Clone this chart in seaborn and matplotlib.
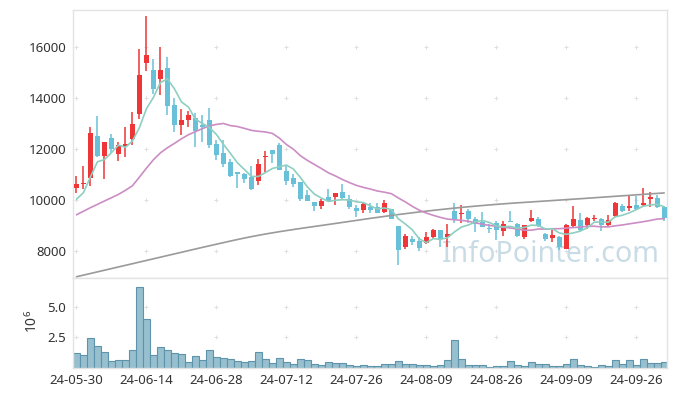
import numpy as np
import pandas as pd
import matplotlib
matplotlib.use("Agg")
import matplotlib.pyplot as plt
import seaborn as sns

# ---------------- data ----------------
tick_labels = ['24-05-30', '24-06-14', '24-06-28', '24-07-12', '24-07-26',
               '24-08-09', '24-08-26', '24-09-09', '24-09-26']

opens = [10482, 10620, 10875, 12510, 11725, 12431, 11804, 12118, 12404, 13372,
         15360, 15098, 14757, 15177, 13725, 12953, 13150, 13203, 12928, 13137,
         12196, 11830, 11490, 11098, 11020, 10889, 10758, 11670, 11974, 12157,
         11137, 10863, 10706, 10196, 9922, 9778, 10105, 10105, 10314, 10051,
         9686, 9608, 9738, 9712, 9543, 9635, 8980, 8144, 8471, 8405,
         8301, 8562, 8824, 8562, 9569, 9451, 9569, 9268, 9137, 8870,
         9111, 8784, 9170, 9072, 8537, 9176, 9242, 8653, 8510, 8537,
         8065, 8980, 9216, 9033, 9260, 9242, 9006, 9373, 9765, 9686,
         9791, 9817, 10039, 10078, 9712]
highs = [10941, 11333, 12850, 13294, 12275, 12588, 12275, 12850, 13451, 15910,
         17216, 15517, 15987, 15621, 13987, 13556, 13477, 13399, 13333, 13595,
         12353, 12353, 11595, 11098, 11046, 11333, 11595, 11908, 11974, 12222,
         11373, 11020, 10706, 10392, 9922, 10051, 10418, 10275, 10627, 10183,
         9791, 9922, 9869, 9869, 10000, 9635, 8980, 8667, 8588, 8537,
         8745, 8876, 8824, 9059, 9869, 9804, 9635, 9346, 9529, 9059,
         9190, 9190, 9582, 9111, 9006, 9608, 9320, 8719, 8824, 8588,
         9059, 9765, 9503, 9346, 9400, 9294, 9400, 9910, 9843, 10209,
         10157, 10471, 10314, 10209, 9765]
lows = [10286, 10420, 10561, 11700, 10811, 11830, 11541, 11698, 12170, 13165,
        15071, 14157, 14131, 13333, 12680, 12549, 12850, 12066, 12288, 12027,
        11569, 11307, 10889, 10458, 10654, 10392, 10575, 11110, 11439, 11176,
        10588, 10522, 9948, 9948, 9569, 9635, 9922, 9791, 10051, 9660,
        9346, 9478, 9503, 9478, 9503, 9242, 7464, 8092, 8222, 7987,
        8275, 8510, 8170, 8170, 9085, 9111, 9111, 8758, 8928, 8719,
        8431, 8588, 9137, 8562, 8484, 9137, 8954, 8405, 8353, 8039,
        8065, 8928, 8797, 8876, 9163, 8771, 8954, 9350, 9529, 9582,
        9608, 9738, 9738, 9686, 9190]
closes = [10627, 10660, 12639, 11725, 12275, 11987, 12145, 12196, 12980, 14902,
          15686, 14366, 15098, 13686, 12953, 13137, 13346, 12719, 12850, 12157,
          11777, 11412, 10941, 11007, 10837, 10418, 11412, 11700, 11816, 11176,
          10745, 10627, 10051, 9974, 9765, 9961, 9974, 10275, 10078, 9725,
          9582, 9843, 9608, 9503, 9895, 9268, 8039, 8588, 8353, 8118,
          8537, 8824, 8458, 8653, 9242, 9503, 9242, 9059, 8954, 8850,
          8824, 9046, 9150, 8588, 9006, 9281, 8980, 8471, 8640, 8170,
          9006, 9255, 8824, 9281, 9290, 9033, 9216, 9882, 9582, 9765,
          9660, 9895, 10118, 9712, 9294]
volume_m = [1.25, 1.03, 2.47, 1.76, 1.33, 0.59, 0.68, 0.68, 1.49, 6.63,
            4.02, 1.08, 1.74, 1.49, 1.25, 1.17, 0.51, 1.00, 0.68, 1.49,
            0.92, 0.84, 0.76, 0.59, 0.51, 0.59, 1.33, 0.76, 0.43, 0.84,
            0.51, 0.35, 0.76, 0.68, 0.35, 0.27, 0.51, 0.43, 0.43, 0.27,
            0.19, 0.27, 0.19, 0.19, 0.35, 0.35, 0.59, 0.35, 0.35, 0.27,
            0.27, 0.19, 0.27, 0.68, 2.31, 0.76, 0.27, 0.27, 0.27, 0.11,
            0.19, 0.19, 0.59, 0.27, 0.19, 0.51, 0.35, 0.35, 0.19, 0.19,
            0.35, 0.76, 0.27, 0.19, 0.11, 0.27, 0.19, 0.68, 0.35, 0.68,
            0.27, 0.76, 0.43, 0.43, 0.51]
# first moving-average points (they depend on days before the window)
ma5_head = [10030, 10290, 10910, 11500]
ma20_head = [9420, 9560, 9700, 9830, 9960, 10090, 10220, 10380, 10560, 10900,
             11250, 11580, 11850, 12050, 12220, 12400, 12560, 12680, 12800]
ma_long = [6990, 7054, 7118, 7182, 7246, 7310, 7374, 7438, 7502, 7566,
           7630, 7694, 7758, 7822, 7886, 7950, 8014, 8078, 8142, 8204,
           8266, 8328, 8390, 8450, 8508, 8563, 8615, 8665, 8712, 8757,
           8800, 8842, 8883, 8923, 8962, 9001, 9040, 9080, 9120, 9160,
           9200, 9240, 9280, 9318, 9356, 9393, 9429, 9464, 9498, 9531,
           9563, 9594, 9624, 9653, 9681, 9708, 9734, 9759, 9783, 9806,
           9828, 9849, 9869, 9888, 9906, 9924, 9942, 9960, 9978, 9996,
           10014, 10032, 10050, 10069, 10088, 10107, 10126, 10145, 10164, 10183,
           10202, 10221, 10240, 10258, 10276]
price_ticks = [8000, 10000, 12000, 14000, 16000]
vol_ticks = [2.5, 5.0]

# ---------------- style ----------------
sns.set_style("white")
plt.rcParams['font.family'] = ['Noto Sans', 'DejaVu Sans']

RED = '#ee3537'
BLUE = '#68c1d8'
TEAL = '#8dcfc1'
PINK = '#cc8cc4'
GREY = '#9a9a9a'
SPINE = '#e3e3e3'
TXT = '#333333'

n = len(closes)
idx = np.arange(n)
o = np.array(opens, float)
h = np.array(highs, float)
l = np.array(lows, float)
c = np.array(closes, float)

cs = pd.Series(c)
ma5 = cs.rolling(5).mean().to_numpy()
ma5[:len(ma5_head)] = ma5_head
ma20 = cs.rolling(20).mean().to_numpy()
ma20[:len(ma20_head)] = ma20_head

df = pd.DataFrame({'i': idx, 'ma5': ma5, 'ma20': ma20, 'malong': ma_long,
                   'vol': volume_m})

W, H = 677, 396
fig = plt.figure(figsize=(W / 100, H / 100), dpi=100)
ax = fig.add_axes([73 / W, (H - 278) / H, 594 / W, 268 / H])
axv = fig.add_axes([73 / W, (H - 368) / H, 594 / W, 90 / H], sharex=ax)

# grid crosses
gx = np.arange(0, n, 10)
for a, ys in ((ax, price_ticks), (axv, vol_ticks)):
    X, Y = np.meshgrid(gx, ys)
    a.scatter(X.ravel(), Y.ravel(), marker='+', s=12, color='#e0e0e0',
              linewidths=0.7, zorder=0)

# watermark
ax.text((551 - 73) / 594, (278 - 255) / 268, 'InfoPointer.com',
        transform=ax.transAxes, ha='center', va='center', fontsize=20.6,
        color='#c9dce6', zorder=1)

# candles
up = c >= o
col = np.where(up, RED, BLUE)
ax.vlines(idx, l, h, colors=col, linewidth=1.1, zorder=2)
body_bot = np.minimum(o, c)
body_h = np.maximum(np.abs(c - o), 45)
ax.bar(idx, body_h, bottom=body_bot, width=0.72, color=col, linewidth=0,
       zorder=3)

# moving averages
sns.lineplot(data=df, x='i', y='malong', ax=ax, color=GREY, linewidth=1.2,
             zorder=4)
sns.lineplot(data=df, x='i', y='ma20', ax=ax, color=PINK, linewidth=1.2,
             zorder=4)
sns.lineplot(data=df, x='i', y='ma5', ax=ax, color=TEAL, linewidth=1.2,
             zorder=5)

# volume
axv.bar(df['i'], df['vol'], width=1.0, color='#97bfce', edgecolor='#5e94ab',
        linewidth=0.8, zorder=2)

# axes formatting
ax.set_xlim(-0.5, 84.4)
ax.set_ylim(6941, 17451)
axv.set_ylim(0, 7.33)
ax.set_yticks(price_ticks)
ax.set_yticklabels([str(v) for v in price_ticks])
axv.set_yticks(vol_ticks)
axv.set_yticklabels([f'{v:.1f}' for v in vol_ticks])
axv.set_xticks(gx)
axv.set_xticklabels(tick_labels)
for a in (ax, axv):
    a.set_xlabel('')
    a.set_ylabel('')
    a.tick_params(length=0, labelsize=9.5, labelcolor=TXT, pad=5)
    for s in a.spines.values():
        s.set_color(SPINE)
        s.set_linewidth(1)
ax.tick_params(labelbottom=False)
axv.tick_params(axis='x', pad=4)

fig.text(33 / W, 1 - 321 / H, r'$\mathregular{10^6}$', rotation=90,
         ha='center', va='center', fontsize=10, color=TXT)

fig.savefig('out.png', dpi=100)
